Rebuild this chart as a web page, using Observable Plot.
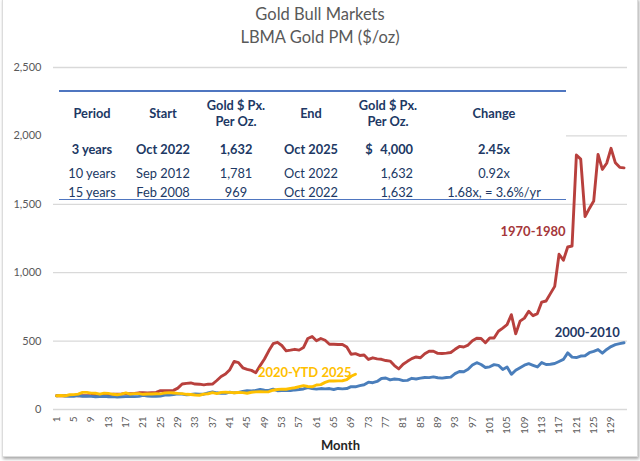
<!DOCTYPE html>
<html>
<head>
<meta charset="utf-8">
<script src="https://cdn.jsdelivr.net/npm/d3@7"></script>
<script src="https://cdn.jsdelivr.net/npm/@observablehq/plot@0.6"></script>
<style>
  html, body { margin: 0; padding: 0; background: #fff; }
  body { width: 640px; height: 461px; position: relative; overflow: hidden; font-family: Lato, "Open Sans", sans-serif; }
  #frame { position: absolute; left: 2px; top: -2px; width: 634px; height: 457px; border: 1px solid #dcdcdc; box-shadow: 1px 2px 3px rgba(0,0,0,0.35); background: #fff; }
  #title { position: absolute; left: 0; top: 3px; width: 640px; text-align: center; color: #595959; font-size: 16.5px; line-height: 23px; }
  #chart { position: absolute; left: 0; top: 56px; }
  #tbl { position: absolute; left: 0; top: 0; width: 640px; height: 461px; pointer-events: none; }
  .cell { position: absolute; transform: translate(-50%, -50%); white-space: nowrap; color: #203864; font-size: 12.8px; }
  .right { transform: translate(-100%, -50%); }
  .b { font-weight: bold; }
  .hline { position: absolute; height: 1.5px; background: #4f76c0; }
  #tblbg { position: absolute; background: #fff; }
</style>
</head>
<body>
<div id="frame"></div>
<div id="title">Gold Bull Markets<br>LBMA Gold PM ($/oz)</div>
<div id="chart"></div>
<div id="tbl"></div>
<script>
// ---- Data (indexed, month 1 = 100) ----
const series1970 = [100,100,100,102,103,101,101,101,103,107,107,107,
  108,111,111,113,116,115,117,122,122,121,123,125,
  138,138,138,140,156,186,191,194,186,185,180,185,
  186,212,241,259,291,352,343,305,294,286,269,321,
  369,429,481,491,468,429,434,440,434,453,519,533,
  502,519,506,477,477,475,476,457,404,408,395,398,
  366,378,370,367,358,354,321,297,331,352,372,384,
  378,408,426,426,410,409,412,417,440,461,457,471,
  502,521,519,488,523,523,572,595,620,693,553,646,
  668,718,686,701,785,793,847,900,1135,1091,1188,1195,
  1860,1830,1410,1470,1524,1865,1755,1800,1909,1803,1770,1766];
const series2000 = [100,103,98,97,96,101,97,98,96,93,95,97,
  93,94,91,93,94,95,94,96,103,98,97,97,
  99,105,106,109,115,112,107,110,114,112,112,122,
  129,122,118,119,127,122,125,132,137,136,140,147,
  141,139,149,137,138,139,138,143,146,150,160,153,
  149,153,151,153,146,154,151,153,167,166,175,181,
  200,196,205,227,230,216,223,220,211,213,228,223,
  229,234,233,238,232,229,234,237,262,278,276,294,
  325,342,329,307,312,328,323,293,311,257,287,306,
  324,335,323,311,343,329,331,336,351,366,414,383,
  380,391,393,415,425,438,412,439,460,474,482,488];
const series2020 = [100,102,100,108,109,112,125,125,120,119,112,120,
  118,111,108,112,121,112,116,116,111,113,113,115,
  114,121,123,121,118,116,111,110,106,104,112,115,
  123,116,125,127,125,122,124,123,119,126,129,131,
  129,130,141,146,149,148,154,159,167,174,168,166,
  179,182,198,209,208,209,210,218,243,258];
const seriesNames = ["1970-1980", "2000-2010", "2020-YTD 2025"];
const seriesColors = ["#b8403d", "#4a7ebb", "#ffc000"];
const labelColors = ["#a5373a", "#1f3864", "#ffc000"];
const labelPos = [[111, 1300], [123.5, 560], [58.3, 271]];
const xTicks = d3.range(1, 130, 4);
const yTicks = [0, 500, 1000, 1500, 2000, 2500];

// ---- Table data ----
const tblHeaders = ["Period", "Start", "Gold $ Px.|Per Oz.", "End", "Gold $ Px.|Per Oz.", "Change"];
const tblPeriods = ["3 years", "10 years", "15 years"];
const tblStarts = ["Oct 2022", "Sep 2012", "Feb 2008"];
const tblStartPx = ["1,632", "1,781", "969"];
const tblEnds = ["Oct 2025", "Oct 2022", "Oct 2022"];
const tblEndPx = ["4,000", "1,632", "1,632"];
const tblChanges = ["2.45x", "0.92x", "1.68x, = 3.6%/yr"];

// ---- Build rows ----
const rows = [];
[series1970, series2000, series2020].forEach((s, k) => {
  s.forEach((v, i) => rows.push({series: seriesNames[k], month: i + 1, value: v}));
});
const labels = seriesNames.map((n, k) => ({name: n, month: labelPos[k][0], value: labelPos[k][1], color: labelColors[k]}));

const chart = Plot.plot({
  width: 640,
  height: 399,
  marginTop: 11,
  marginBottom: 46,
  marginLeft: 53,
  marginRight: 13,
  style: {fontFamily: "Lato, 'Open Sans', sans-serif", color: "#595959", background: "transparent", overflow: "visible"},
  x: {domain: [0.3, 132.8]},
  y: {domain: [0, 2500]},
  color: {domain: seriesNames, range: seriesColors},
  marks: [
    Plot.gridY(yTicks, {stroke: "#d9d9d9", strokeOpacity: 1, strokeWidth: 1.3}),
    Plot.axisY({ticks: yTicks, tickFormat: d3.format(","), tickSize: 0, tickPadding: 12, fontSize: 11, label: null, fill: "#595959"}),
    Plot.axisX({ticks: xTicks, tickFormat: d => String(d), tickSize: 0, tickPadding: 7, tickRotate: -90, fontSize: 10, fill: "#595959",
      label: "Month", labelAnchor: "center", labelArrow: "none", labelOffset: 40}),
    Plot.line(rows, {x: "month", y: "value", z: "series", stroke: "series", strokeWidth: 2.9, curve: "linear", strokeLinejoin: "round"}),
    Plot.text(labels, {x: "month", y: "value", text: "name", fill: "color", fontWeight: "bold", fontSize: 13})
  ]
});
document.getElementById("chart").appendChild(chart);
chart.querySelectorAll('[aria-label="x-axis label"] text').forEach(t => { t.setAttribute("font-weight", "bold"); t.setAttribute("font-size", "13"); t.setAttribute("fill", "#262626"); });

// ---- Table overlay ----
const tbl = document.getElementById("tbl");
function add(html, cls, x, y) {
  const d = document.createElement("div");
  d.className = "cell " + (cls || "");
  d.style.left = x + "px";
  d.style.top = y + "px";
  d.textContent = html;
  tbl.appendChild(d);
}
const bg = document.createElement("div");
bg.id = "tblbg";
Object.assign(bg.style, {left: "50px", top: "86px", width: "516px", height: "115px"});
tbl.appendChild(bg);
[90, 198.5].forEach(y => {
  const l = document.createElement("div");
  l.className = "hline";
  Object.assign(l.style, {left: "59px", top: y + "px", width: "507px"});
  tbl.appendChild(l);
});
const colX = [92, 163, 236, 311, 388, 494];
tblHeaders.forEach((h, i) => {
  const parts = h.split("|");
  if (parts.length === 1) add(parts[0], "b", colX[i], 113);
  else { add(parts[0], "b", colX[i], 105); add(parts[1], "b", colX[i], 121); }
});
const rowY = [149, 173, 191.5];
tblPeriods.forEach((p, r) => {
  const cls = r === 0 ? "b" : "";
  add(p, cls, colX[0], rowY[r]);
  add(tblStarts[r], cls, colX[1], rowY[r]);
  add(tblStartPx[r], cls, colX[2], rowY[r]);
  add(tblEnds[r], cls, colX[3], rowY[r]);
  add(tblEndPx[r], cls + " right", 413, rowY[r]);
  if (r === 0) add("$", cls, 369, rowY[r]);
  add(tblChanges[r], cls, colX[5], rowY[r]);
});
</script>
</body>
</html>
